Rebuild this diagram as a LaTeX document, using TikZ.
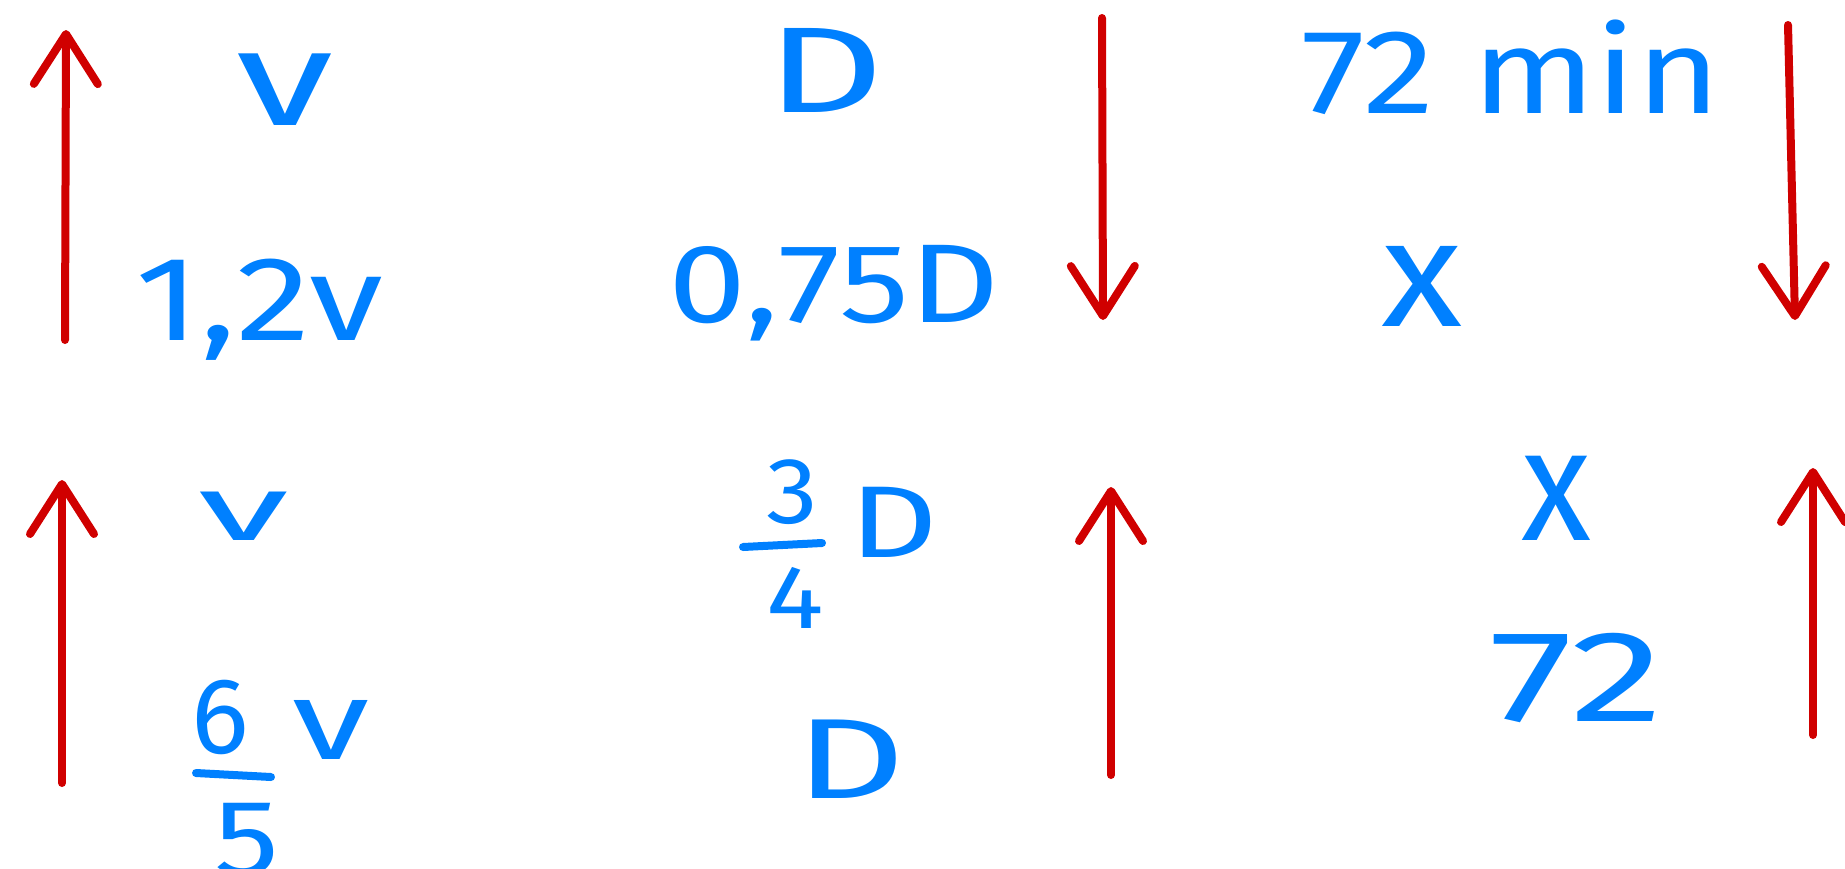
\documentclass[tikz,border=0pt]{standalone}
\usepackage{fontspec}
\usepackage{graphicx}
\setmainfont{Fira Sans}
\usetikzlibrary{arrows.meta}
\definecolor{inkblue}{RGB}{0,128,255}
\definecolor{inkred}{RGB}{208,0,0}
\newcommand{\fsz}[1]{\fontsize{#1}{#1}\selectfont}
\newcommand{\hs}[2]{\scalebox{#1}[1]{#2}}
\tikzset{
  lab/.style={inner sep=0pt, text=inkblue, anchor=center},
  redarrow/.style={draw=inkred, line width=4pt, line cap=round,
    -{Straight Barb[length=25pt,width=32pt,round]}},
  fracbar/.style={draw=inkblue, line width=4pt, line cap=round}
}
\begin{document}
\begin{tikzpicture}[x=0.5pt,y=-0.5pt]
\useasboundingbox (0,0) rectangle (1845,868);
% labels
\node[lab,font=\fsz{68}] (v1) at (285,90) {\hs{1.45}{v}};
\node[lab,font=\fsz{60}] (v12) at (259,310) {\hs{1.25}{1,2v}};
\node[lab,font=\fsz{61}] (d1) at (825,70) {\hs{1.5}{D}};
\node[lab,font=\fsz{56}] (d075) at (834,293) {\hs{1.25}{0,75D}};
\node[lab,font=\fsz{60}] (t72) at (1511,67) {\hs{1.2}{72 min}};
\node[lab,font=\fsz{76}] (x1) at (1422,286) {\hs{1.1}{x}};
\node[lab,font=\fsz{46}] (v2) at (244,516) {\hs{2.0}{v}};
\node[lab,font=\fsz{54}] (n6) at (220,717) {6};
\node[lab,font=\fsz{54}] (n5) at (247,840) {\hs{1.2}{5}};
\node[lab,font=\fsz{56}] (v3) at (331,730) {\hs{1.4}{v}};
\node[lab,font=\fsz{47}] (n3) at (792,492) {\hs{1.1}{3}};
\node[lab,font=\fsz{45}] (n4) at (795,598) {\hs{1.2}{4}};
\node[lab,font=\fsz{51}] (d34) at (894,522) {\hs{1.35}{D}};
\node[lab,font=\fsz{57}] (d2) at (851,759) {\hs{1.5}{D}};
\node[lab,font=\fsz{80}] (x2) at (1556,498) {\hs{0.9}{x}};
\node[lab,font=\fsz{65}] (n72) at (1577,678) {\hs{1.45}{72}};
% fraction bars
\coordinate (b1l) at (196,773);
\coordinate (b1r) at (271,777);
\draw[fracbar] (b1l) -- (b1r);
\coordinate (b2l) at (743,547);
\coordinate (b2r) at (822,543);
\draw[fracbar] (b2l) -- (b2r);
% arrows
\coordinate (a1s) at (65,340);   \coordinate (a1e) at (66,30);
\coordinate (a2s) at (1102,18);  \coordinate (a2e) at (1103,320);
\coordinate (a3s) at (1788,25);  \coordinate (a3e) at (1795,320);
\coordinate (a4s) at (62,783);   \coordinate (a4e) at (62,480);
\coordinate (a5s) at (1111,775); \coordinate (a5e) at (1111,487);
\coordinate (a6s) at (1813,735); \coordinate (a6e) at (1813,468);
\draw[redarrow] (a1s) -- (a1e);
\draw[redarrow] (a2s) -- (a2e);
\draw[redarrow] (a3s) -- (a3e);
\draw[redarrow] (a4s) -- (a4e);
\draw[redarrow] (a5s) -- (a5e);
\draw[redarrow] (a6s) -- (a6e);
\end{tikzpicture}
\end{document}
